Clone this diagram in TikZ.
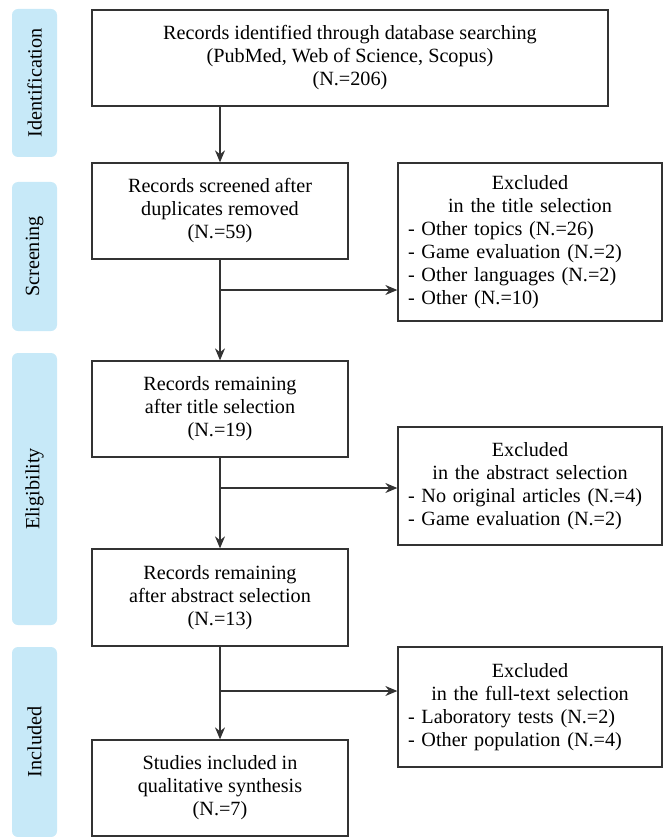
\documentclass[tikz,border=0pt]{standalone}
\usepackage{fontspec}
\setmainfont{Liberation Serif}
\usetikzlibrary{arrows.meta}
\definecolor{sidefill}{HTML}{C7E9F8}
\definecolor{linegray}{HTML}{333333}
\begin{document}
\begin{tikzpicture}[x=1pt,y=-1pt,
  every node/.style={font=\fontsize{20.2}{23}\selectfont, inner sep=0pt},
  mainbox/.style={draw=linegray, line width=1.3pt, minimum width=256pt, minimum height=96pt, align=center},
  exclbox/.style={draw=linegray, line width=1.3pt, minimum width=264pt, text width=244pt, align=left},
  sidebox/.style={fill=sidefill, rounded corners=6pt, minimum width=45pt, rotate=90},
  arr/.style={draw=linegray, line width=1.3pt, -{Stealth[length=12pt,width=10pt]}},
  ln/.style={draw=linegray, line width=1.3pt}]
\useasboundingbox (0,0) rectangle (663,837);
% side labels
\node[sidebox, minimum height=45pt, minimum width=148pt] (sid) at (34.5,83) {Identification};
\node[sidebox, minimum height=45pt, minimum width=149pt] (sscr) at (34.5,256.5) {Screening};
\node[sidebox, minimum height=45pt, minimum width=272pt] (selig) at (34.5,489) {Eligibility};
\node[sidebox, minimum height=45pt, minimum width=190pt] (sinc) at (34.5,742) {Included};
% main boxes
\node[mainbox, minimum width=516pt] (b1) at (350,58) {Records identified through database searching\\(PubMed, Web of Science, Scopus)\\(N.=206)};
\node[mainbox] (b2) at (220,211) {Records screened after\\duplicates removed\\(N.=59)};
\node[mainbox] (b3) at (220,409) {Records remaining\\after title selection\\(N.=19)};
\node[mainbox, minimum height=97pt] (b4) at (220,597.5) {Records remaining\\after abstract selection\\(N.=13)};
\node[mainbox] (b5) at (220,788) {Studies included in\\qualitative synthesis\\(N.=7)};
% exclusion boxes
\node[exclbox, minimum height=158pt] (e1) at (530,242) {{\centering Excluded\\in the title selection\par}- Other topics (N.=26)\\- Game evaluation (N.=2)\\- Other languages (N.=2)\\- Other (N.=10)};
\node[exclbox, minimum height=118pt] (e2) at (530,486) {{\centering Excluded\\in the abstract selection\par}- No original articles (N.=4)\\- Game evaluation (N.=2)};
\node[exclbox, minimum height=120pt] (e3) at (530,707) {{\centering Excluded\\in the full-text selection\par}- Laboratory tests (N.=2)\\- Other population (N.=4)};
% connectors
\draw[arr] (b1.south -| b2.north) -- (b2.north);
\draw[arr] (b2.south) -- (b3.north);
\draw[arr] (b3.south) -- (b4.north);
\draw[arr] (b4.south) -- (b5.north);
\coordinate (c1) at (220,290);
\coordinate (c2) at (220,488);
\coordinate (c3) at (220,691);
\draw[arr] (c1) -- (c1 -| e1.west);
\draw[arr] (c2) -- (c2 -| e2.west);
\draw[arr] (c3) -- (c3 -| e3.west);
\end{tikzpicture}
\end{document}
